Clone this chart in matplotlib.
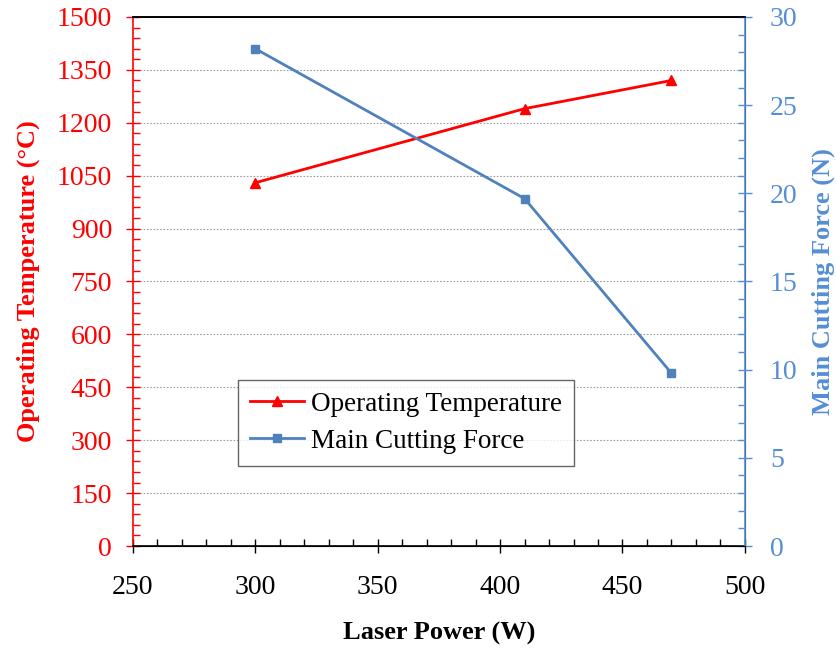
import matplotlib.pyplot as plt
from matplotlib.ticker import MultipleLocator

plt.rcParams['font.family'] = ['Liberation Serif', 'DejaVu Serif']

# Laser power sweep
potencia = [300, 410, 470]
temperatura = [1030, 1240, 1320]
fuerza = [28.2, 19.7, 9.8]

rojo = '#FF0000'
azul = '#4F81BD'
azul_txt = '#558ED5'

fig = plt.figure(figsize=(8.36, 6.48), dpi=100)
ax = fig.add_axes([0.159, 0.1574, 0.732, 0.8164])
ax2 = ax.twinx()

l1, = ax.plot(potencia, temperatura, color=rojo, marker='^', markersize=7, linewidth=2, zorder=3)
l2, = ax2.plot(potencia, fuerza, color=azul, marker='s', markersize=6, linewidth=2, zorder=3)

# Eje izquierdo (temperatura)
ax.set_xlim(250, 500)
ax.set_ylim(0, 1500)
ax.xaxis.set_major_locator(MultipleLocator(50))
ax.xaxis.set_minor_locator(MultipleLocator(10))
ax.yaxis.set_major_locator(MultipleLocator(150))
ax.yaxis.set_minor_locator(MultipleLocator(30))
ax.grid(axis='y', which='major', color='#A0A0A0', linestyle=(0, (1.5, 1.5)), linewidth=0.8)
ax.set_axisbelow(True)

ax.tick_params(axis='x', which='major', direction='inout', length=10, width=1, labelsize=20, pad=16)
ax.tick_params(axis='x', which='minor', direction='in', length=5, width=1)
ax.tick_params(axis='y', which='major', direction='inout', length=10, width=1, colors=rojo, labelsize=20, pad=10)
ax.tick_params(axis='y', which='minor', direction='in', length=5, width=1, colors=rojo)
ax.spines['left'].set_color(rojo)
ax.spines['left'].set_linewidth(1.2)
ax.spines['bottom'].set_linewidth(1.2)
ax.spines['top'].set_linewidth(1.2)

# Eje derecho (fuerza)
ax2.set_ylim(0, 30)
ax2.yaxis.set_major_locator(MultipleLocator(5))
ax2.yaxis.set_minor_locator(MultipleLocator(1))
ax2.tick_params(axis='y', which='major', direction='inout', length=10, width=1, colors=azul_txt, labelsize=20, pad=13)
ax2.tick_params(axis='y', which='minor', direction='in', length=5, width=1, colors=azul_txt)
ax2.spines['right'].set_color(azul_txt)
ax2.spines['right'].set_linewidth(1.2)
ax2.spines['left'].set_visible(False)
ax2.spines['top'].set_linewidth(1.2)

ax.set_xlabel('Laser Power (W)', fontsize=19, fontweight='bold', labelpad=16)
ax.set_ylabel('Operating Temperature (°C)', fontsize=19, fontweight='bold', color=rojo, labelpad=12)
ax2.set_ylabel('Main Cutting Force (N)', fontsize=19, fontweight='bold', color=azul_txt, labelpad=10)

leg = ax2.legend([l1, l2], ['Operating Temperature', 'Main Cutting Force'],
                 loc='lower left', bbox_to_anchor=(0.1716, 0.151), borderaxespad=0,
                 fontsize=19.5, frameon=True, fancybox=False, edgecolor='#404040',
                 handlelength=2.0, borderpad=0.45, labelspacing=0.45, handletextpad=0.25)
leg.get_frame().set_linewidth(1)

fig.savefig('out.png', dpi=100)
